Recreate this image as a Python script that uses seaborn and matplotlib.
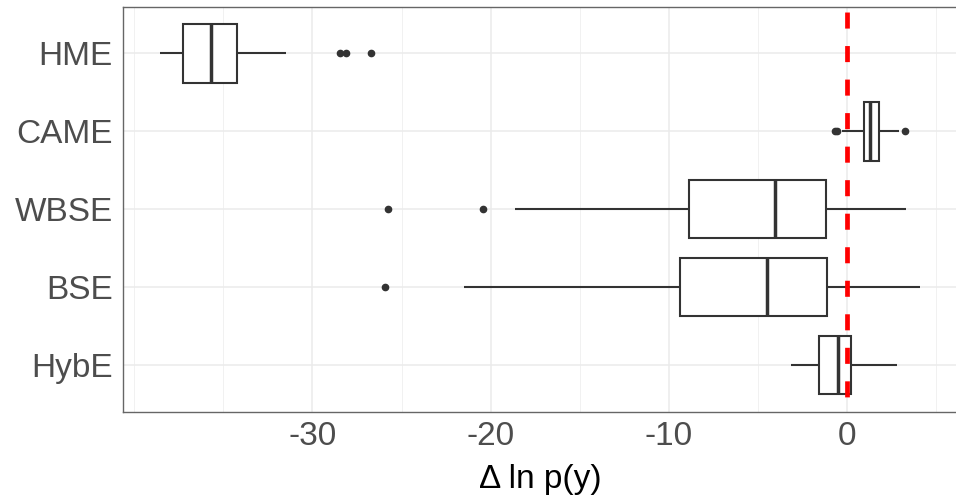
import numpy as np
import pandas as pd
import matplotlib
matplotlib.use("Agg")
import matplotlib.pyplot as plt
from matplotlib.ticker import FixedLocator
import seaborn as sns

# Box summaries of the log-evidence differences per estimator
methods = ["HME", "CAME", "WBSE", "BSE", "HybE"]
whisker_low = [-38.55, -0.30, -18.61, -21.51, -3.14]
q1 = [-37.28, 0.95, -8.85, -9.39, -1.57]
median = [-35.69, 1.29, -4.04, -4.51, -0.52]
q3 = [-34.25, 1.80, -1.20, -1.14, 0.21]
whisker_high = [-31.46, 2.92, 3.31, 4.08, 2.79]
outliers_low = [[], [-0.70, -0.58], [-25.76, -20.42], [-25.91], []]
outliers_high = [[-28.45, -28.11, -26.71], [3.24], [], [], []]
reference_value = 0.0
x_limits = (-40.65, 6.21)
x_major = [-30, -20, -10, 0]
x_minor = [-40, -35, -25, -15, -5, 5]


def sample_from_summary(lo, a, m, b, hi, low_out, high_out):
    """Build a 17-value sample whose quartiles (indices 4, 8, 12 under linear
    interpolation), whisker ends and outliers equal the given summary."""
    vals = list(low_out) + [lo]
    vals += [a] * (7 - len(vals))
    vals += [m] * 3
    tail = [hi] + list(high_out)
    vals += [b] * (17 - len(vals) - len(tail))
    vals += tail
    return vals


rows = []
for i, name in enumerate(methods):
    for v in sample_from_summary(whisker_low[i], q1[i], median[i], q3[i],
                                 whisker_high[i], outliers_low[i], outliers_high[i]):
        rows.append({"method": name, "value": v})
df = pd.DataFrame(rows)

sns.set_style("white")
plt.rcParams["font.family"] = ["Liberation Sans", "DejaVu Sans"]
plt.rcParams["axes.unicode_minus"] = False

fig = plt.figure(figsize=(9.56, 4.98), dpi=100)
ax = fig.add_axes([122.7 / 956, 86.3 / 498, 835.0 / 956, 405.0 / 498])

dark = "#333333"
sns.boxplot(
    data=df, x="value", y="method", order=methods, orient="h",
    color="white", linecolor=dark, linewidth=1.5, width=0.75,
    fliersize=4.5, showcaps=False, ax=ax,
    medianprops={"linewidth": 2.5, "color": dark},
    flierprops={"marker": "o", "markerfacecolor": dark, "markeredgecolor": dark},
)

ax.axvline(reference_value, color="#FF0000", linewidth=3.4,
           linestyle=(3.9, (3.4, 3.7)), zorder=5)

ax.set_xlim(*x_limits)
ax.set_ylim(len(methods) - 1 + 0.6, -0.6)
ax.xaxis.set_major_locator(FixedLocator(x_major))
ax.xaxis.set_minor_locator(FixedLocator(x_minor))
ax.set_axisbelow(True)
ax.grid(which="major", axis="both", color="#EBEBEB", linewidth=1.1)
ax.grid(which="minor", axis="x", color="#EFEFEF", linewidth=0.6)

ax.tick_params(axis="both", which="major", labelsize=24, labelcolor="#4D4D4D",
               color=dark, length=4, width=1.0, pad=3)
ax.tick_params(axis="x", which="minor", length=0)
for spine in ax.spines.values():
    spine.set_visible(True)
    spine.set_color("#666666")
    spine.set_linewidth(1.0)

ax.set_ylabel("")
ax.set_xlabel("Δ ln p(y)", fontsize=24, color="black", labelpad=8)

fig.savefig("out.png", dpi=100)
